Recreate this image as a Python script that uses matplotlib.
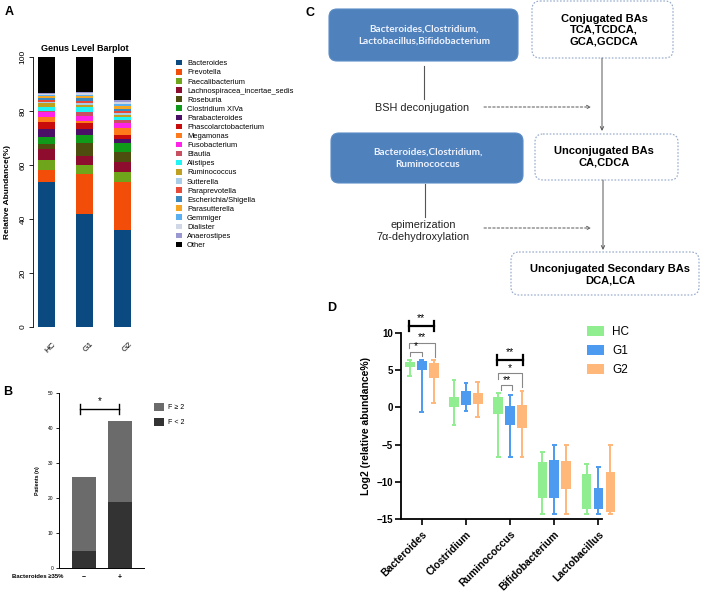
import matplotlib
matplotlib.use('Agg')
import matplotlib.pyplot as plt
import matplotlib.patches as mpatches
import matplotlib.transforms as mtransforms
import numpy as np

plt.rcParams['font.family'] = ['Liberation Sans', 'DejaVu Sans']
plt.rcParams['axes.unicode_minus'] = True

# ---------------- panel A data (genus level, relative abundance %)
groups_a = ['HC', 'G1', 'G2']
genera = ['Bacteroides', 'Prevotella', 'Faecalibacterium', 'Lachnospiracea_incertae_sedis',
          'Roseburia', 'Clostridium XIVa', 'Parabacteroides', 'Phascolarctobacterium',
          'Megamonas', 'Fusobacterium', 'Blautia', 'Alistipes', 'Ruminococcus', 'Sutterella',
          'Paraprevotella', 'Escherichia/Shigella', 'Parasutterella', 'Gemmiger', 'Dialister',
          'Anaerostipes', 'Other']
hc_ab = [53.7, 4.3, 3.9, 3.9, 2.0, 2.7, 2.7, 2.8, 1.9, 1.6, 0.6, 1.5, 1.2, 0.5, 0.9, 0.6, 0.6, 0.4, 0.4, 0.3, 13.5]
g1_ab = [41.7, 14.8, 3.5, 3.3, 4.8, 3.0, 2.1, 2.2, 1.0, 1.7, 1.6, 1.7, 0.9, 0.8, 0.7, 1.0, 0.6, 0.6, 0.5, 0.5, 13.0]
g2_ab = [35.8, 17.9, 3.7, 3.6, 3.9, 3.1, 1.5, 1.6, 2.5, 2.1, 0.9, 1.0, 0.8, 0.7, 0.8, 1.0, 0.8, 0.9, 0.8, 0.7, 15.9]
genus_colors = ['#0a4a80', '#f24e0a', '#6fa51b', '#8e0c2e', '#4d4d0f', '#109a1a', '#4b0f68',
                '#c80b0b', '#ff7a1a', '#ff22e8', '#c95060', '#1ff5f5', '#c0a020', '#a8cde8',
                '#e84a3a', '#3a8ac0', '#f5a623', '#5ab0f0', '#d0d8e8', '#9a98d0', '#000000']

# ---------------- panel B data
b_cats = ['\u2212', '+']
f_lt2 = [5, 19]
f_ge2 = [21, 23]

# ---------------- panel D data (log2 relative abundance)
genera_d = ['Bacteroides', 'Clostridium', 'Ruminococcus', 'Bifidobacterium', 'Lactobacillus']
groups_d = ['HC', 'G1', 'G2']
colors_d = ['#90ee90', '#4c9bf0', '#ffb77a']
hc_q1 = [5.4, 0.0, -0.95, -12.2, -13.65]
hc_q3 = [6.1, 1.35, 1.4, -7.3, -8.9]
hc_lo = [4.2, -2.4, -6.6, -14.3, -14.3]
hc_hi = [6.4, 3.6, 1.9, -6.0, -7.6]
g1_q1 = [5.0, 0.3, -2.4, -12.2, -13.65]
g1_q3 = [6.2, 2.2, 0.17, -7.05, -10.85]
g1_lo = [-0.6, -0.45, -6.6, -14.3, -14.3]
g1_hi = [6.3, 3.3, 1.65, -5.05, -8.0]
g2_q1 = [4.0, 0.44, -2.7, -10.9, -13.95]
g2_q3 = [6.0, 1.95, 0.3, -7.15, -8.6]
g2_lo = [0.6, -1.25, -6.6, -14.3, -14.3]
g2_hi = [6.3, 3.4, 2.2, -5.05, -5.05]

W, H = 709, 592
fig = plt.figure(figsize=(7.09, 5.92), dpi=100)


def px_ax(l, t, r, b):
    # axes placed by pixel box of the reference
    return fig.add_axes([l / W, 1 - b / H, (r - l) / W, (b - t) / H])


# ================= A
axA = px_ax(33, 57, 136, 327)
xa = np.arange(len(groups_a))
abund = np.array([hc_ab, g1_ab, g2_ab])
bottom = np.zeros(len(groups_a))
for i, g in enumerate(genera):
    axA.bar(xa, abund[:, i], width=0.44, bottom=bottom, color=genus_colors[i], label=g, linewidth=0)
    bottom += abund[:, i]
axA.set_xlim(-0.34, 2.34)
axA.set_ylim(0, 100)
for s in ['top', 'right', 'bottom']:
    axA.spines[s].set_visible(False)
axA.spines['left'].set_linewidth(0.6)
axA.set_yticks(range(0, 101, 20))
axA.set_yticklabels([str(v) for v in range(0, 101, 20)], rotation=90, va='center', fontsize=6)
axA.tick_params(axis='y', length=3, width=0.6, pad=1.5)
axA.set_xticks(xa)
axA.set_xticklabels(groups_a, rotation=45, ha='right', rotation_mode='anchor', fontsize=6)
axA.tick_params(axis='x', length=0, pad=10)
shift = mtransforms.ScaledTranslation(6 / 100, 0, fig.dpi_scale_trans)
for lab in axA.get_xticklabels():
    lab.set_transform(lab.get_transform() + shift)
axA.set_title('Genus Level Barplot', fontsize=6.5, fontweight='bold', pad=4)
axA.set_ylabel('Relative Abundance(%)', fontsize=6, fontweight='bold', labelpad=6)
axA.legend(loc='upper left', bbox_to_anchor=(176 / W, 1 - 60 / H), bbox_transform=fig.transFigure,
           frameon=False, fontsize=5.4, handlelength=0.75, handleheight=0.75, handletextpad=0.7,
           labelspacing=0.23, borderpad=0, borderaxespad=0)

# ================= B
axB = px_ax(59, 392.7, 144, 568.3)
xb = np.arange(len(b_cats))
pl = axB.bar(xb, f_lt2, width=0.67, color='#333333', label='F < 2', linewidth=0)
pg = axB.bar(xb, f_ge2, width=0.67, bottom=f_lt2, color='#6b6b6b', label='F \u2265 2', linewidth=0)
axB.set_xlim(-0.69, 1.67)
axB.set_ylim(0, 50)
for s in ['top', 'right']:
    axB.spines[s].set_visible(False)
axB.spines['left'].set_linewidth(0.7)
axB.spines['bottom'].set_linewidth(0.7)
axB.set_yticks(range(0, 51, 10))
axB.tick_params(axis='y', labelsize=3.5, length=2.5, width=0.6, pad=1.5)
axB.set_xticks(xb)
axB.set_xticklabels(b_cats, fontsize=5, fontweight='bold')
axB.tick_params(axis='x', length=0, pad=4)
axB.set_ylabel('Patients (n)', fontsize=3.8, fontweight='bold', labelpad=6)
axB.plot([-0.11, 0.97], [45.4, 45.4], color='k', lw=1, clip_on=False)
axB.plot([-0.11, -0.11], [44.0, 46.8], color='k', lw=1, clip_on=False)
axB.plot([0.97, 0.97], [44.0, 46.8], color='k', lw=1, clip_on=False)
axB.text(0.43, 46.2, '*', ha='center', va='bottom', fontsize=7)
axB.legend(handles=[pg, pl], loc='upper left', bbox_to_anchor=(154 / W, 1 - 403 / H),
           bbox_transform=fig.transFigure, frameon=False, fontsize=5, handlelength=1.4,
           handleheight=1.4, handletextpad=0.6, labelspacing=0.9, borderpad=0, borderaxespad=0)
fig.text(63 / W, 1 - 576 / H, 'Bacteroides \u226535%', ha='right', va='center', fontsize=4.3,
         fontweight='bold')

# ================= C (flow diagram, drawn in pixel units)
axC = fig.add_axes([300 / W, 1 - 300 / H, 409 / W, 300 / H])
axC.set_xlim(300, 709)
axC.set_ylim(300, 0)
axC.axis('off')

blue = '#4f81bd'
for (x0, y0, x1, y1) in [(329, 9, 518, 61), (331, 133, 523, 183)]:
    axC.add_patch(mpatches.FancyBboxPatch((x0, y0), x1 - x0, y1 - y0,
                                          boxstyle='round,pad=0,rounding_size=8',
                                          fc=blue, ec='#5b8cc6', lw=0.8))
for (x0, y0, x1, y1) in [(532, 1, 673, 58), (535, 134, 678, 180), (511, 252, 699, 295)]:
    axC.add_patch(mpatches.FancyBboxPatch((x0, y0), x1 - x0, y1 - y0,
                                          boxstyle='round,pad=0,rounding_size=8',
                                          fc='white', ec='#8fa5c9', lw=0.8, ls=(0, (1.5, 1.5))))

axC.text(424, 35, 'Bacteroides,Clostridium,\nLactobacillus,Bifidobacterium', ha='center',
         va='center', color='#eef3ff', fontsize=7.2, fontweight='bold', family='Lato',
         linespacing=1.5)
axC.text(428, 158, 'Bacteroides,Clostridium,\nRuminococcus', ha='center', va='center',
         color='#eef3ff', fontsize=7.2, fontweight='bold', family='Lato', linespacing=1.5)
axC.text(604, 30, 'Conjugated BAs\nTCA,TCDCA,\nGCA,GCDCA', ha='center', va='center',
         fontsize=8, fontweight='bold', linespacing=1.15)
axC.text(604, 157, 'Unconjugated BAs\nCA,CDCA', ha='center', va='center',
         fontsize=8, fontweight='bold', linespacing=1.2)
axC.text(610, 275, 'Unconjugated Secondary BAs\nDCA,LCA', ha='center', va='center',
         fontsize=8, fontweight='bold', linespacing=1.2)
axC.text(422, 108, 'BSH deconjugation', ha='center', va='center', fontsize=7.8, color='#222222')
axC.text(423, 231, 'epimerization\n7\u03b1-dehydroxylation', ha='center', va='center',
         fontsize=7.8, color='#222222', linespacing=1.3)

axC.plot([424, 424], [66, 99], color='#555555', lw=0.8)
axC.plot([425, 425], [184, 217], color='#555555', lw=0.8)
for yy in [107, 228]:
    axC.annotate('', xy=(591, yy), xytext=(484, yy),
                 arrowprops=dict(arrowstyle='->', color='#555555', lw=0.7, ls=(0, (2.5, 2)),
                                 shrinkA=0, shrinkB=0, mutation_scale=6))
axC.annotate('', xy=(602, 131), xytext=(602, 58),
             arrowprops=dict(arrowstyle='->', color='#555555', lw=0.7, shrinkA=0, shrinkB=0,
                             mutation_scale=6))
axC.annotate('', xy=(603, 250), xytext=(603, 180),
             arrowprops=dict(arrowstyle='->', color='#555555', lw=0.7, shrinkA=0, shrinkB=0,
                             mutation_scale=6))

# ================= D
axD = px_ax(401, 332.7, 602, 519.4)
xd = np.arange(len(genera_d))
offsets = [-0.27, 0.0, 0.27]
stats_d = [(hc_q1, hc_q3, hc_lo, hc_hi), (g1_q1, g1_q3, g1_lo, g1_hi), (g2_q1, g2_q3, g2_lo, g2_hi)]
for (q1, q3, lo, hi), off, col, lab in zip(stats_d, offsets, colors_d, groups_d):
    q1, q3, lo, hi = map(np.array, (q1, q3, lo, hi))
    xx = xd + off
    axD.bar(xx, q3 - q1, bottom=q1, width=0.22, color=col, label=lab, linewidth=0, clip_on=False)
    axD.vlines(xx, lo, q1, color=col, lw=1.4, clip_on=False)
    axD.vlines(xx, q3, hi, color=col, lw=1.4, clip_on=False)
    axD.hlines(lo, xx - 0.055, xx + 0.055, color=col, lw=1.4, clip_on=False)
    axD.hlines(hi, xx - 0.055, xx + 0.055, color=col, lw=1.4, clip_on=False)

axD.set_xlim(-0.47, 4.08)
axD.set_ylim(-15, 10)
for s in ['top', 'right']:
    axD.spines[s].set_visible(False)
axD.spines['left'].set_linewidth(1.3)
axD.spines['bottom'].set_linewidth(1.3)
axD.set_yticks(range(-15, 11, 5))
axD.tick_params(axis='y', labelsize=7, length=4, width=1.2, pad=2)
for lab in axD.get_yticklabels():
    lab.set_fontweight('bold')
axD.set_xticks(xd)
axD.set_xticklabels(genera_d, rotation=45, ha='right', rotation_mode='anchor', fontsize=7.5,
                    fontweight='bold')
axD.tick_params(axis='x', length=4, width=1.2, pad=3)
axD.set_ylabel('Log2 (relative abundance%)', fontsize=7.5, fontweight='bold', labelpad=4)

# significance marks
def bracket(ax, x1, x2, y, d1, d2, txt, thick):
    if thick:
        ax.plot([x1, x2], [y, y], color='k', lw=1.6, clip_on=False)
        ax.plot([x1, x1], [y - 0.7, y + 0.7], color='k', lw=1.6, clip_on=False)
        ax.plot([x2, x2], [y - 0.7, y + 0.7], color='k', lw=1.6, clip_on=False)
        ax.text((x1 + x2) / 2, y + 0.35, txt, ha='center', va='bottom', fontsize=7.5, clip_on=False)
    else:
        ax.plot([x1, x1, x2, x2], [y - d1, y, y, y - d2], color='#888888', lw=0.8, clip_on=False)
        ax.text((x1 + x2) / 2, y + 0.1, txt, ha='center', va='bottom', fontsize=7.5, clip_on=False)

bracket(axD, -0.3, 0.28, 10.9, 0, 0, '**', True)
bracket(axD, -0.28, 0.3, 8.6, 0.7, 1.8, '**', False)
bracket(axD, -0.27, 0.01, 7.45, 0.6, 0.6, '*', False)
bracket(axD, 1.71, 2.3, 6.33, 0, 0, '**', True)
bracket(axD, 1.73, 2.28, 4.55, 0.8, 1.8, '*', False)
bracket(axD, 1.8, 2.04, 2.95, 0.65, 0.65, '**', False)

axD.legend(loc='upper left', bbox_to_anchor=(587 / W, 1 - 326 / H), bbox_transform=fig.transFigure,
           frameon=False, fontsize=8.5, handlelength=1.45, handleheight=0.85, handletextpad=0.7,
           labelspacing=0.6, borderpad=0, borderaxespad=0)

# panel letters
for lt, xx, yy in [('A', 9, 12), ('B', 8, 392), ('C', 310, 13), ('D', 332, 308)]:
    fig.text(xx / W, 1 - yy / H, lt, ha='center', va='center', fontsize=9, fontweight='bold')

fig.savefig('out.png', dpi=100)
